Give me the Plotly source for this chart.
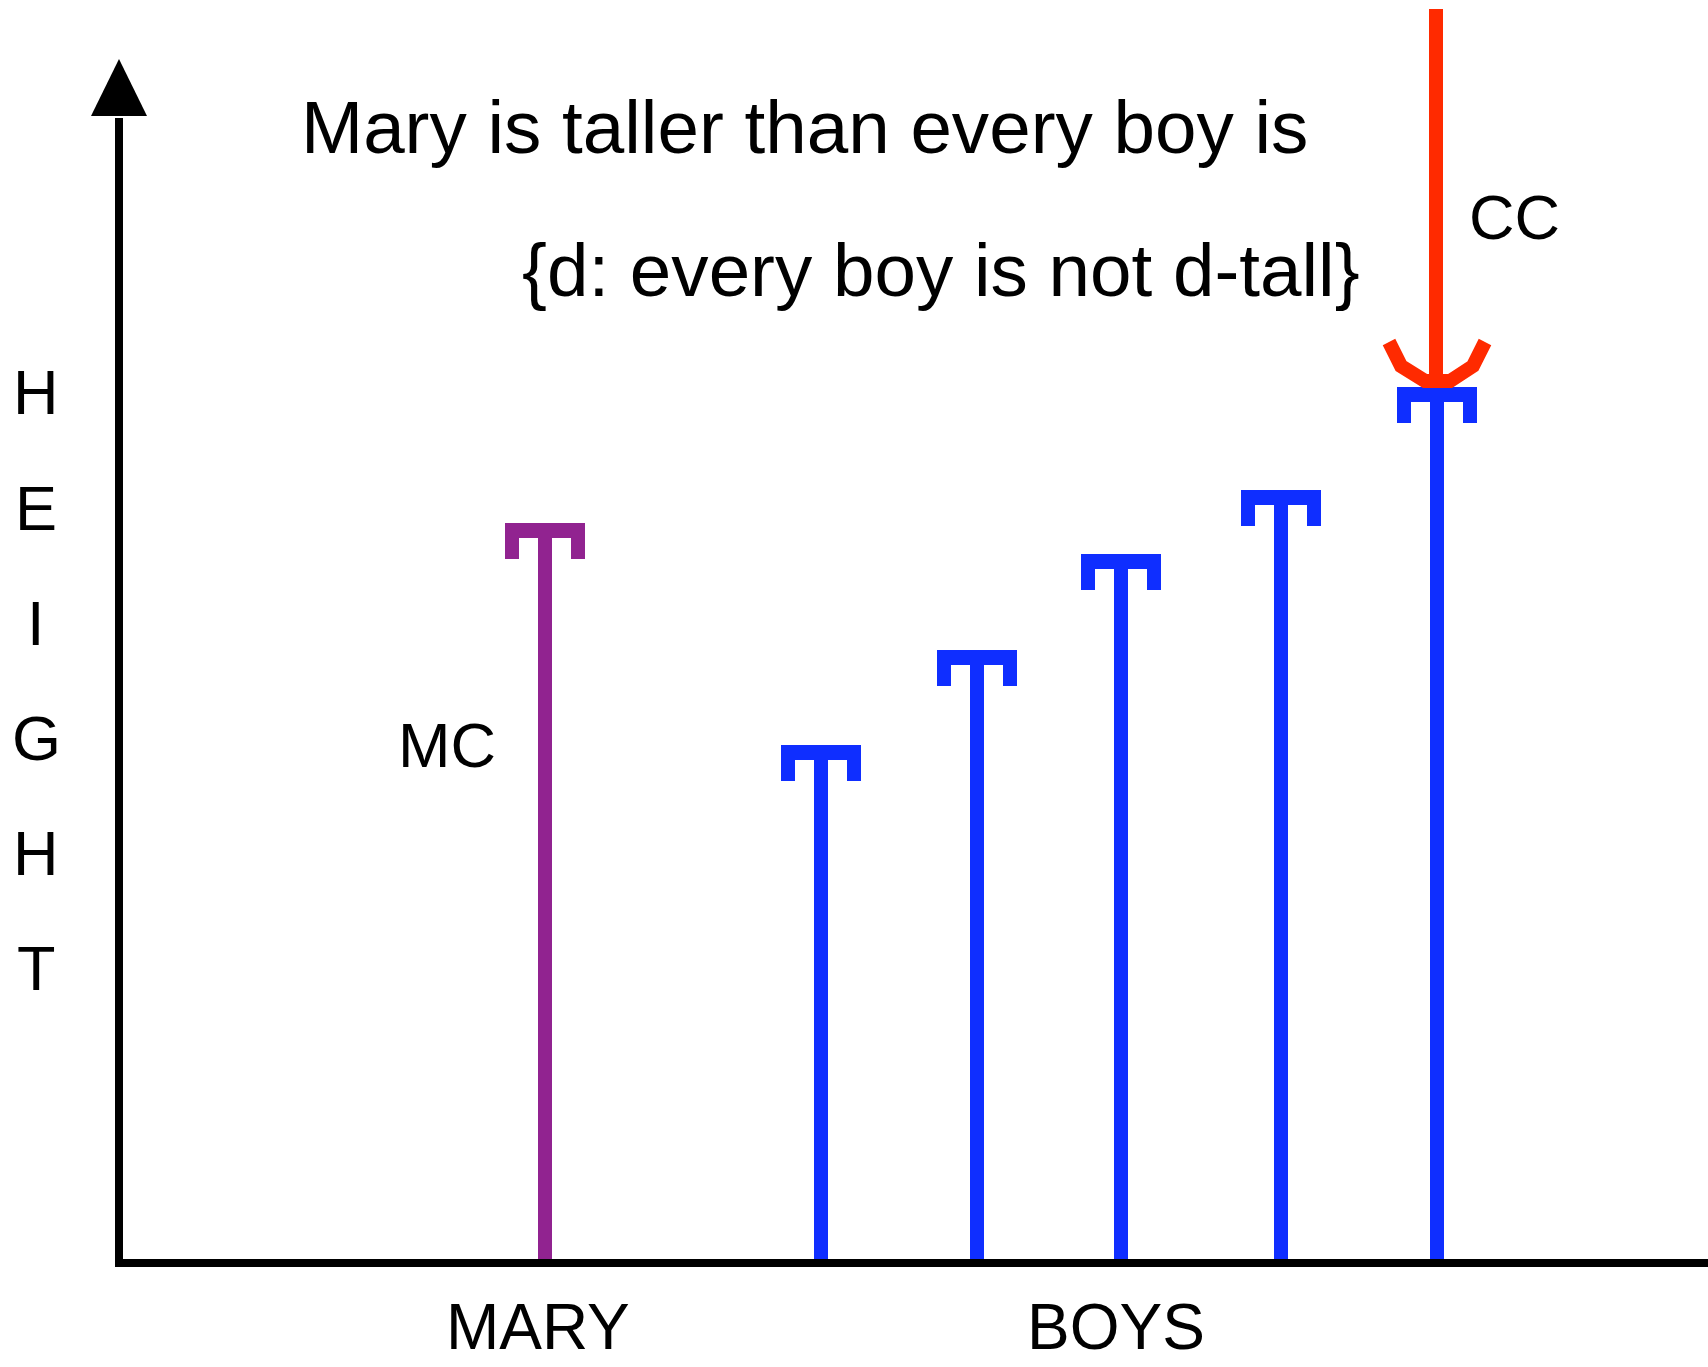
import plotly.graph_objects as go

# ---------------- data ----------------
people = ["Mary", "Boy 1", "Boy 2", "Boy 3", "Boy 4", "Boy 5"]
x_positions = [545, 821, 977, 1121, 1281, 1437]      # position along the x axis
heights = [740, 518, 613, 709, 773, 876]             # height (top of each figure)
group_labels = ["MARY", "BOYS"]
group_label_x = [538, 1116]
axis_letters = ["H", "E", "I", "G", "H", "T"]
axis_letter_y = [871, 755, 640, 525, 410, 295]
title_lines = ["Mary is taller than every boy is", "{d: every boy is not d-tall}"]

# ---------------- styles ----------------
W, H = 1708, 1367
BASE = 1263  # pixel row of the baseline
PURPLE = "#912390"
BLUE = "#0F2EFF"
RED = "#FF2A00"
FONT = "Liberation Sans, Arial, sans-serif"
STEM_W = 14
CAP_HALF = 40
CAP_BAR = 15
CAP_LEG = 14
CAP_DEPTH = 36

fig = go.Figure()

# stems and caps
for name, x, h in zip(people, x_positions, heights):
    col = PURPLE if name == "Mary" else BLUE
    fig.add_trace(go.Scatter(x=[x, x], y=[0, h - CAP_BAR + 1], mode="lines",
                             line=dict(color=col, width=STEM_W), hoverinfo="skip"))
    px = [x - CAP_HALF, x + CAP_HALF, x + CAP_HALF, x + CAP_HALF - CAP_LEG,
          x + CAP_HALF - CAP_LEG, x - CAP_HALF + CAP_LEG, x - CAP_HALF + CAP_LEG,
          x - CAP_HALF, x - CAP_HALF]
    py = [h, h, h - CAP_DEPTH, h - CAP_DEPTH, h - CAP_BAR, h - CAP_BAR,
          h - CAP_DEPTH, h - CAP_DEPTH, h]
    fig.add_trace(go.Scatter(x=px, y=py, mode="lines", fill="toself",
                             fillcolor=col, line=dict(width=0, color=col),
                             hoverinfo="skip"))

# red arrow pointing at the tallest boy
imax = max(range(1, len(heights)), key=lambda i: heights[i])
ax, tip = x_positions[imax], heights[imax] + 6
fig.add_trace(go.Scatter(x=[ax - 1, ax - 1], y=[tip, BASE - 9], mode="lines",
                         line=dict(color=RED, width=14), hoverinfo="skip"))
fig.add_trace(go.Scatter(
    x=[ax - 48, ax - 36, ax - 12, ax + 13, ax + 36, ax + 48],
    y=[tip + 39, tip + 15, tip, tip, tip + 15, tip + 39],
    mode="lines", line=dict(color=RED, width=14), hoverinfo="skip"))

# axes (drawn as lines with an arrow head)
fig.add_trace(go.Scatter(x=[119, 119], y=[-4, BASE - 118], mode="lines",
                         line=dict(color="black", width=8), hoverinfo="skip"))
fig.add_trace(go.Scatter(x=[91, 147, 119, 91], y=[BASE - 116, BASE - 116, BASE - 59, BASE - 116],
                         mode="lines", fill="toself", fillcolor="black",
                         line=dict(width=0, color="black"), hoverinfo="skip"))
fig.add_trace(go.Scatter(x=[115, W], y=[0, 0], mode="lines",
                         line=dict(color="black", width=8), hoverinfo="skip"))

# texts
ann = []
ann.append(dict(x=299, y=BASE - 127, text=title_lines[0], xanchor="left", yanchor="middle",
                showarrow=False, font=dict(family=FONT, size=74.6, color="black")))
ann.append(dict(x=520, y=BASE - 270, text=title_lines[1], xanchor="left", yanchor="middle",
                showarrow=False, font=dict(family=FONT, size=74.6, color="black")))
ann.append(dict(x=1514, y=BASE - 217, text="CC", xanchor="center", yanchor="middle",
                showarrow=False, font=dict(family=FONT, size=63, color="black")))
ann.append(dict(x=447, y=BASE - 745, text="MC", xanchor="center", yanchor="middle",
                showarrow=False, font=dict(family=FONT, size=63, color="black")))
for lab, lx in zip(group_labels, group_label_x):
    ann.append(dict(x=lx, y=BASE - 1327, text=lab, xanchor="center", yanchor="middle",
                    showarrow=False, font=dict(family=FONT, size=64, color="black")))
for ch, ly in zip(axis_letters, axis_letter_y):
    ann.append(dict(x=36, y=ly, text=ch, xanchor="center", yanchor="middle",
                    showarrow=False, font=dict(family=FONT, size=63, color="black")))

fig.update_layout(
    width=W, height=H, margin=dict(l=0, r=0, t=0, b=0),
    paper_bgcolor="white", plot_bgcolor="white", showlegend=False,
    xaxis=dict(range=[0, W], visible=False, fixedrange=True),
    yaxis=dict(range=[BASE - H, BASE], visible=False, fixedrange=True),
    annotations=ann,
)

fig.write_html("out.html", config={"displayModeBar": False},
               post_script="document.body.style.margin='0';document.body.style.overflow='hidden';")
